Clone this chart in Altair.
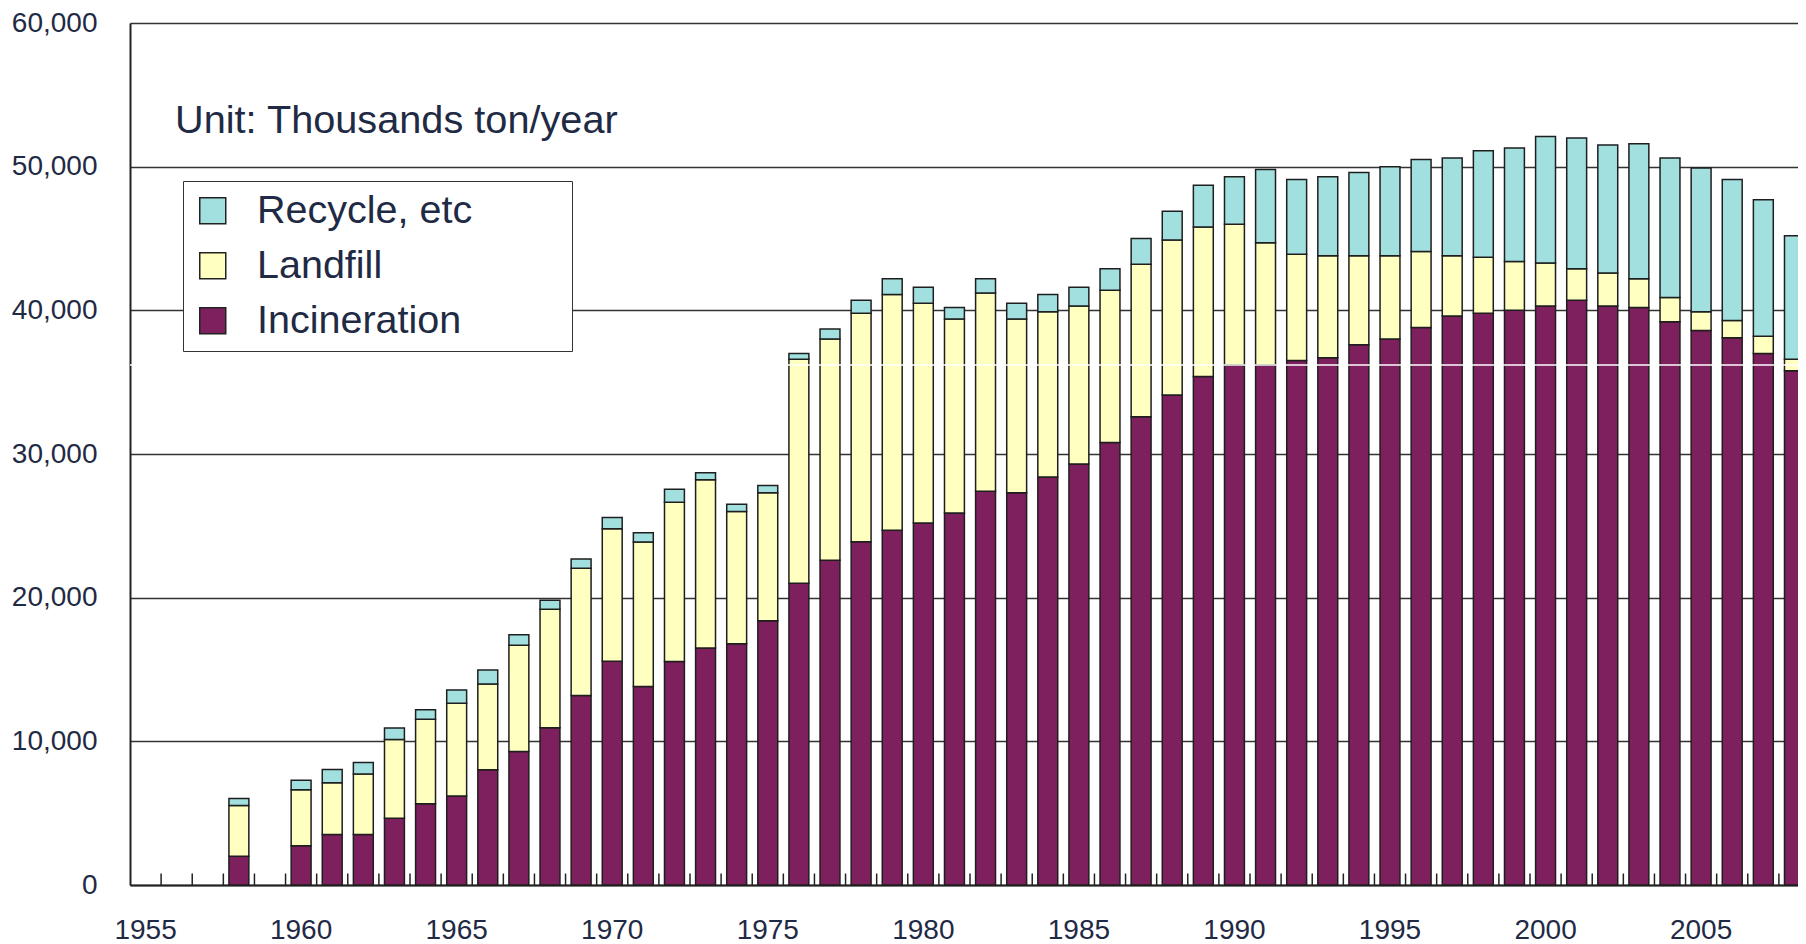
import altair as alt
import pandas as pd

FONT = "Liberation Sans"
NAVY = "#1f2a44"

all_years = list(range(1955, 2009))
data_years = [1958] + list(range(1960, 2009))

incineration = [2000, 2740, 3520, 3520, 4640, 5660, 6190, 8020, 9300, 10950,
                13190, 15570, 13820, 15550, 16500, 16800, 18400, 21000, 22600, 23900,
                24700, 25200, 25900, 27400, 27300, 28400, 29300, 30800, 32600, 34100,
                35400, 36200, 36200, 36500, 36700, 37600, 38000, 38800, 39600, 39800,
                40000, 40300, 40700, 40300, 40200, 39200, 38600, 38100, 37000, 35800]
landfill = [3540, 3890, 3600, 4200, 5490, 5880, 6460, 5970, 7390, 8240,
            8860, 9230, 10060, 11100, 11700, 9200, 8900, 15600, 15400, 15900,
            16400, 15300, 13500, 13800, 12100, 11500, 11000, 10600, 10600, 10800,
            10400, 9800, 8500, 7400, 7100, 6200, 5800, 5300, 4200, 3900,
            3400, 3000, 2200, 2300, 2000, 1700, 1300, 1200, 1200, 800]
recycle = [480, 660, 920, 810, 800, 650, 930, 970, 730, 630,
           640, 780, 630, 900, 500, 500, 500, 400, 700, 900,
           1100, 1100, 800, 1000, 1100, 1200, 1300, 1500, 1800, 2000,
           2900, 3300, 5100, 5200, 5500, 5800, 6200, 6400, 6800, 7400,
           7900, 8800, 9100, 8900, 9400, 9700, 10000, 9800, 9500, 8600]

categories = ["Recycle, etc", "Landfill", "Incineration"]
colors = ["#a2e0e0", "#ffffc0", "#7e1f5e"]
y_ticks = [0, 10000, 20000, 30000, 40000, 50000, 60000]
x_labels = [1955, 1960, 1965, 1970, 1975, 1980, 1985, 1990, 1995, 2000, 2005]
tick_years = list(range(1956, 2009))
unit_text = ["Unit: Thousands ton/year"]
artifact_value = [36200]

rows = []
for i, yr in enumerate(data_years):
    base = 0
    for name, series in (("Incineration", incineration), ("Landfill", landfill), ("Recycle, etc", recycle)):
        v = series[i]
        rows.append({"year": yr, "category": name, "base": base, "top": base + v})
        base += v
df = pd.DataFrame(rows)

PLOT_W = 1668
PLOT_H = 862

x_scale = alt.Scale(domain=all_years, paddingInner=0, paddingOuter=0, range=[0, 1680])
x_axis = alt.Axis(values=x_labels, title=None, labelAngle=0, ticks=False, grid=False,
                  labelFontSize=28, labelPadding=31, labelColor=NAVY, labelFont=FONT,
                  domainColor="#222222", domainWidth=2)
y_scale = alt.Scale(domain=[0, 60000], nice=False, zero=True)
y_axis = alt.Axis(values=y_ticks, format=",d", title=None, ticks=False,
                  labelFontSize=28, labelPadding=33, labelColor=NAVY, labelFont=FONT,
                  gridColor="#333333", gridWidth=1.5, domainColor="#222222", domainWidth=2)

bars = alt.Chart(df).mark_bar(
    width=alt.RelativeBandSize(0.64), stroke="#1e1e1e", strokeWidth=1.5
).encode(
    x=alt.X("year:O", scale=x_scale, axis=x_axis),
    y=alt.Y("top:Q", scale=y_scale, axis=y_axis),
    y2="base:Q",
    color=alt.Color(
        "category:N",
        scale=alt.Scale(domain=categories, range=colors),
        legend=alt.Legend(
            # tiny invisible title on the right only widens the legend frame
            title="\u2014", titleFontSize=2, titleOrient="right", titlePadding=88,
            titleColor="white", titleOpacity=0,
            orient="none", legendX=53, legendY=158, direction="vertical",
            fillColor="white", strokeColor="#333333", padding=10,
            symbolType="square", symbolSize=676, symbolStrokeColor="#222222",
            symbolStrokeWidth=1.5, labelFontSize=39.5, labelFont=FONT, labelColor=NAVY,
            labelLimit=700, rowPadding=14, labelOffset=24.5,
        ),
    ),
)

ticks = alt.Chart(pd.DataFrame({"year": tick_years})).mark_rule(
    color="#222222", strokeWidth=1.5
).encode(
    x=alt.X("year:O", scale=x_scale, axis=x_axis, bandPosition=0),
    y=alt.datum(0),
    y2=alt.datum(800),
)

artifact = alt.Chart(pd.DataFrame({"v": artifact_value})).mark_rule(
    color="white", strokeWidth=1.5
).encode(y=alt.Y("v:Q", scale=y_scale, axis=y_axis))

unit = alt.Chart(pd.DataFrame({"t": unit_text})).mark_text(
    align="left", baseline="middle", fontSize=39.7, font=FONT, color=NAVY
).encode(x=alt.value(45), y=alt.datum(53150), text="t:N")

chart = alt.layer(bars, ticks, artifact, unit).properties(
    width=PLOT_W, height=PLOT_H,
    autosize=alt.AutoSizeParams(type="none"),
    padding={"left": 122, "top": 15, "right": 0, "bottom": 62},
).configure_view(strokeWidth=0).configure_legend(strokeWidth=1.5).configure(font=FONT)

chart.save("out.html", embed_options={"renderer": "svg", "actions": False})
